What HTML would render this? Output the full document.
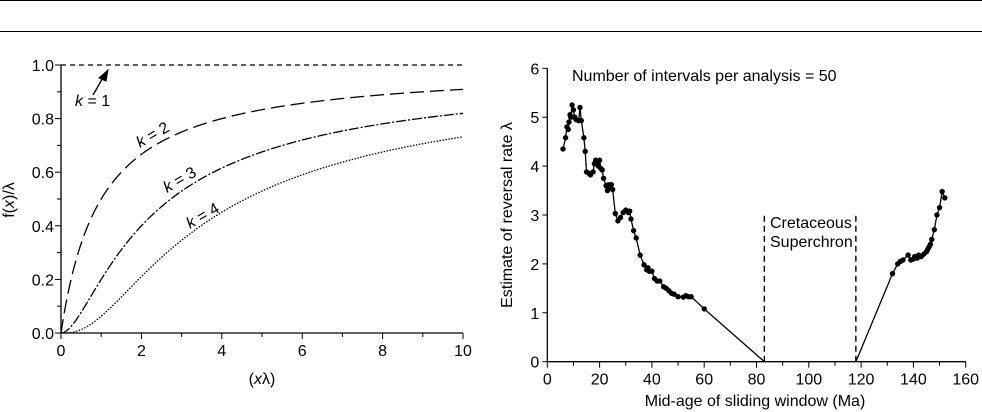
<!DOCTYPE html>
<html><head><meta charset="utf-8"><style>
html,body{margin:0;padding:0;background:#fff;}
svg{display:block;font-family:"Liberation Sans",sans-serif;}
text{fill:#000;}
</style></head><body>
<svg id="s" width="982" height="412" viewBox="0 0 982 412" xmlns="http://www.w3.org/2000/svg">
<line x1="0" y1="0.5" x2="982" y2="0.5" stroke="#000" stroke-width="1"/>
<line x1="0" y1="31.5" x2="982" y2="31.5" stroke="#000" stroke-width="1"/>
<g id="L" stroke="#000" fill="none"></g>
<g id="R" stroke="#000" fill="none"></g>
<g font-size="16">
<text x="14" y="200" text-anchor="middle" transform="rotate(-90 14 200)">f(<tspan font-style="italic">x</tspan>)/λ</text>
<text x="262" y="384" text-anchor="middle">(<tspan font-style="italic">x</tspan>λ)</text>
<text x="75" y="106"><tspan font-style="italic">k</tspan> = 1</text>
<text x="140" y="148" transform="rotate(-30 140 148)"><tspan font-style="italic">k</tspan> = 2</text>
<text x="167" y="193" transform="rotate(-30 167 193)"><tspan font-style="italic">k</tspan> = 3</text>
<text x="190" y="229" transform="rotate(-30 190 229)"><tspan font-style="italic">k</tspan> = 4</text>
<text x="512" y="215" text-anchor="middle" transform="rotate(-90 512 215)">Estimate of reversal rate λ</text>
<text x="572" y="81">Number of intervals per analysis = 50</text>
<text x="770" y="228">Cretaceous</text>
<text x="770" y="247">Superchron</text>
<text x="755" y="406" text-anchor="middle">Mid-age of sliding window (Ma)</text>
</g>
<g id="T" font-size="16"></g>
</svg>
<script>
var NS="http://www.w3.org/2000/svg";
function el(p,t,a,txt){var e=document.createElementNS(NS,t);for(var k in a)e.setAttribute(k,a[k]);if(txt!=null)e.textContent=txt;document.getElementById(p).appendChild(e);return e;}
var lx0=61,lx1=463,ly0=333,ly1=65;
function LX(v){return lx0+(lx1-lx0)*v/10;} function LY(v){return ly0-(ly0-ly1)*v;}
el("L","line",{x1:lx0,y1:ly0,x2:lx1,y2:ly0,"stroke-width":1.3});
el("L","line",{x1:lx0,y1:ly0,x2:lx0,y2:ly1,"stroke-width":1.3});
for(var i=0;i<=10;i++){var x=LX(i);el("L","line",{x1:x,y1:ly0,x2:x,y2:ly0+(i%2?4:6)});if(i%2==0)el("T","text",{x:x,y:ly0+23,"text-anchor":"middle"},String(i));}
for(var i=0;i<=10;i++){var y=LY(i/10);el("L","line",{x1:lx0,y1:y,x2:lx0-(i%2?4:6),y2:y});if(i%2==0)el("T","text",{x:lx0-7,y:y+6,"text-anchor":"end"},(i/10).toFixed(1));}
el("L","line",{x1:lx0,y1:LY(1),x2:lx1,y2:LY(1),"stroke-dasharray":"5,4","stroke-width":1.2});
function h(k,x){var s=0,t=1;for(var j=0;j<k;j++){if(j>0)t*=x/j;s+=t;}return t/s;}
var dash={2:"14,6",3:"10,2,2,2",4:"1.5,1.5"};
[2,3,4].forEach(function(k){var d="";for(var i=0;i<=400;i++){var x=i/40;d+=(i?"L":"M")+LX(x).toFixed(2)+" "+LY(h(k,x)).toFixed(2);}el("L","path",{d:d,"stroke-dasharray":dash[k],"stroke-width":1.3});});
el("L","line",{x1:93,y1:95,x2:104,y2:76,"stroke-width":1.3});
el("L","path",{d:"M108 70 L99 78 L106 81 Z",fill:"#000"});
var rx0=547.3,rx1=965.7,ry0=361.7,ry1=68.3;
function RX(v){return rx0+(rx1-rx0)*v/160;} function RY(v){return ry0-(ry0-ry1)*v/6;}
el("R","line",{x1:rx0,y1:ry0,x2:rx1,y2:ry0,"stroke-width":1.3});
el("R","line",{x1:rx0,y1:ry0,x2:rx0,y2:ry1,"stroke-width":1.3});
for(var i=0;i<=16;i++){var x=RX(i*10);el("R","line",{x1:x,y1:ry0,x2:x,y2:ry0+(i%2?4:6)});if(i%2==0)el("T","text",{x:x,y:ry0+23,"text-anchor":"middle"},String(i*10));}
for(var i=0;i<=6;i++){var y=RY(i);el("R","line",{x1:rx0,y1:y,x2:rx0-5,y2:y});el("T","text",{x:rx0-8,y:y+6,"text-anchor":"end"},String(i));}
el("R","line",{x1:RX(83),y1:ry0,x2:RX(83),y2:RY(3),"stroke-dasharray":"6,4","stroke-width":1.4});
el("R","line",{x1:RX(118),y1:ry0,x2:RX(118),y2:RY(3),"stroke-dasharray":"6,4","stroke-width":1.4});
var A=[[6,4.35],[7,4.58],[7.5,4.8],[8,4.75],[8.3,4.9],[8.7,5.05],[9,5.0],[9.5,5.25],[10,5.15],[10.5,5.0],[11,4.95],[12,4.93],[12.5,5.2],[13,4.93],[14,4.58],[14.5,4.3],[15,3.88],[16,3.85],[16.5,3.82],[17.5,3.88],[18,4.05],[18.5,4.12],[19,4.1],[19.5,4.0],[20,4.12],[20.5,3.95],[21,3.92],[21.5,3.75],[22.5,3.6],[23,3.5],[23.5,3.62],[24,3.55],[24.5,3.62],[25,3.52],[26,3.03],[27,2.88],[28,2.95],[29,3.05],[30,3.1],[31,3.05],[31.5,3.08],[32,2.92],[33,2.68],[34,2.53],[35.5,2.18],[37,1.98],[38,1.88],[38.5,1.92],[39,1.85],[40,1.85],[41,1.7],[42,1.65],[43,1.65],[44.5,1.53],[45.5,1.5],[46.5,1.45],[47.5,1.4],[48.5,1.38],[50,1.33],[52,1.32],[53,1.35],[54,1.33],[55,1.33],[60,1.08]];
var B=[[132,1.8],[134,2.0],[135,2.05],[136,2.08],[138,2.18],[139,2.08],[140,2.1],[140.5,2.15],[141.5,2.12],[142,2.18],[143,2.15],[144,2.2],[145,2.25],[145.5,2.3],[146,2.35],[146.5,2.4],[147,2.5],[148,2.7],[149,3.0],[150,3.15],[151,3.48],[152,3.35]];
function pl(arr){return arr.map(function(p){return RX(p[0]).toFixed(2)+","+RY(p[1]).toFixed(2);}).join(" ");}
el("R","polyline",{points:pl(A.concat([[83,0]])),"stroke-width":1.3});
el("R","polyline",{points:pl([[118,0]].concat(B)),"stroke-width":1.3});
A.concat(B).forEach(function(p){el("R","circle",{cx:RX(p[0]),cy:RY(p[1]),r:2.7,fill:"#000",stroke:"none"});});
</script>
</body></html>
